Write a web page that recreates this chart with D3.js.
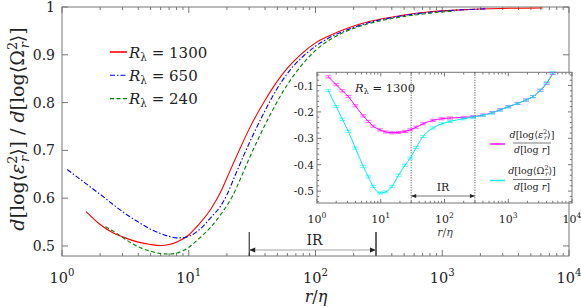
<!DOCTYPE html>
<html>
<head>
<meta charset="utf-8">
<script src="https://cdn.jsdelivr.net/npm/d3@7"></script>
<style>
  body { margin: 0; background: #fff; }
  svg { display: block; }
  text { font-family: "DejaVu Serif", "Liberation Serif", "Times New Roman", serif; }
</style>
</head>
<body>
<svg id="chart" width="581" height="307"></svg>
<script>
// ---- main plot data (r/eta, slope ratio) ----
const r1300 = [1.55, 2, 2.5, 3, 4, 5, 6, 7, 8, 10, 12, 15, 18, 21, 25, 30, 40, 50, 60, 76, 100, 129, 190, 270, 470, 800, 1400, 2900, 6200];
const v1300 = [0.572, 0.545, 0.528, 0.519, 0.508, 0.503, 0.501, 0.503, 0.508, 0.523, 0.545, 0.578, 0.615, 0.655, 0.7, 0.745, 0.805, 0.845, 0.872, 0.9, 0.925, 0.94, 0.958, 0.97, 0.982, 0.99, 0.994, 0.997, 0.998];

const r650 = [1.1, 1.5, 2, 3, 4, 5, 6, 7, 8, 9, 10, 12, 15, 18, 20, 23, 27, 32, 40, 50, 63, 80, 100, 129, 190, 270, 470, 800, 1400, 2200];
const v650 = [0.66, 0.633, 0.608, 0.572, 0.55, 0.535, 0.526, 0.52, 0.517, 0.517, 0.52, 0.533, 0.56, 0.585, 0.607, 0.645, 0.688, 0.731, 0.783, 0.83, 0.868, 0.897, 0.918, 0.936, 0.955, 0.968, 0.981, 0.989, 0.994, 0.996];

const r240 = [2.2, 2.5, 3, 4, 5, 6, 7, 8, 10, 12, 15, 18, 22, 26, 30, 35.5, 45, 56, 71, 87, 112, 141, 190, 270, 470, 800, 1260];
const v240 = [0.54, 0.532, 0.518, 0.498, 0.489, 0.484, 0.483, 0.485, 0.497, 0.515, 0.54, 0.567, 0.603, 0.645, 0.683, 0.725, 0.78, 0.825, 0.865, 0.893, 0.92, 0.937, 0.953, 0.966, 0.979, 0.987, 0.992];

// ---- inset data (R_lambda = 1300) ----
const rIns   = [1.5, 2, 2.5, 3.1, 4, 5.3, 6.4, 7.6, 9.7, 12, 15, 19, 24, 29, 36, 46, 66, 90, 122, 200, 280, 400, 560, 740, 1000, 1400, 1900, 2450, 3200, 4000, 5000];
const epsIns = [-0.067, -0.097, -0.12, -0.142, -0.177, -0.215, -0.236, -0.254, -0.268, -0.276, -0.279, -0.278, -0.274, -0.268, -0.258, -0.245, -0.232, -0.226, -0.223, -0.221, -0.218, -0.212, -0.203, -0.192, -0.18, -0.168, -0.155, -0.142, -0.118, -0.092, -0.054];
const omgIns = [-0.119, -0.18, -0.228, -0.274, -0.337, -0.406, -0.446, -0.482, -0.507, -0.503, -0.482, -0.44, -0.402, -0.375, -0.335, -0.293, -0.261, -0.245, -0.236, -0.226, -0.22, -0.213, -0.204, -0.193, -0.181, -0.168, -0.155, -0.142, -0.118, -0.09, -0.052];
const errIns = [0.004, 0.004, 0.004, 0.004, 0.004, 0.004, 0.004, 0.004, 0.004, 0.004, 0.004, 0.004, 0.004, 0.004, 0.004, 0.004, 0.004, 0.004, 0.004, 0.004, 0.004, 0.004, 0.004, 0.004, 0.004, 0.004, 0.004, 0.004, 0.004, 0.004, 0.004];

// ---- ticks / labels ----
const xDecades = [1, 10, 100, 1000, 10000];
const xDecLabels = ['0', '1', '2', '3', '4'];
const yMain = [0.5, 0.6, 0.7, 0.8, 0.9, 1];
const yMainLabels = ['0.5', '0.6', '0.7', '0.8', '0.9', '1'];
const yIns = [-0.5, -0.4, -0.3, -0.2, -0.1];
const yInsLabels = ['-0.5', '-0.4', '-0.3', '-0.2', '-0.1'];
const irRange = [30, 300];

const series = [
  { r: r1300, v: v1300, label: '1300', color: '#ff0000', dash: null },
  { r: r650,  v: v650,  label: '650',  color: '#0000ff', dash: '5,2,1.5,2' },
  { r: r240,  v: v240,  label: '240',  color: '#008000', dash: '4,2.5' },
];

const svg = d3.select('#chart');
const AX = '#777';

// main axes
const x = d3.scaleLog().domain([1, 1e4]).range([62, 569]);
const y = d3.scaleLinear().domain([0.479, 1]).range([256, 7]);

const xMinor = x.ticks().filter(t => !xDecades.includes(t));

svg.append('defs').append('clipPath').attr('id', 'clipMain')
  .append('rect').attr('x', 62).attr('y', 7).attr('width', 507).attr('height', 249);

function frame(g, xs, ys, major, minorX, yMajor, yMinor, maj, mnr) {
  const [x0, x1] = xs.range(), [y0, y1] = ys.range();
  for (const [yy, s] of [[y0, -1], [y1, 1]]) {
    g.selectAll(null).data(minorX).join('line')
      .attr('x1', d => xs(d)).attr('x2', d => xs(d))
      .attr('y1', yy).attr('y2', yy + s * mnr).attr('stroke', AX);
    g.selectAll(null).data(major).join('line')
      .attr('x1', d => xs(d)).attr('x2', d => xs(d))
      .attr('y1', yy).attr('y2', yy + s * maj).attr('stroke', AX);
  }
  for (const [xx, s] of [[x0, 1], [x1, -1]]) {
    g.selectAll(null).data(yMajor).join('line')
      .attr('y1', d => ys(d)).attr('y2', d => ys(d))
      .attr('x1', xx).attr('x2', xx + s * maj).attr('stroke', AX);
    g.selectAll(null).data(yMinor).join('line')
      .attr('y1', d => ys(d)).attr('y2', d => ys(d))
      .attr('x1', xx).attr('x2', xx + s * mnr).attr('stroke', AX);
  }
  g.append('rect').attr('x', x0).attr('y', y1).attr('width', x1 - x0).attr('height', y0 - y1)
    .attr('fill', 'none').attr('stroke', AX);
}

const mainG = svg.append('g');
frame(mainG, x, y, xDecades, xMinor, yMain, [], 6, 3);

// x tick labels 10^n
function decadeLabels(g, xs, yBase, fs) {
  const t = g.selectAll(null).data(xDecades).join('text')
    .attr('x', d => xs(d)).attr('y', yBase).attr('text-anchor', 'middle')
    .attr('font-size', fs).attr('fill', '#222');
  t.append('tspan').text('10');
  t.append('tspan').attr('font-size', fs * 0.7).attr('dy', -fs * 0.45).text((d, i) => xDecLabels[i]);
}
decadeLabels(mainG, x, 283, 14.5);

mainG.selectAll(null).data(yMain).join('text')
  .attr('x', 55).attr('y', d => y(d) + 5).attr('text-anchor', 'end')
  .attr('font-size', 14).attr('fill', '#222')
  .text((d, i) => yMainLabels[i]);

// x label
const xl = mainG.append('text').attr('x', 316).attr('y', 302).attr('text-anchor', 'middle')
  .attr('font-size', 16).attr('fill', '#222');
xl.append('tspan').attr('font-style', 'italic').text('r');
xl.append('tspan').text('/');
xl.append('tspan').attr('font-style', 'italic').text('η');

// y label
const yl = mainG.append('text').attr('transform', 'translate(24,129) rotate(-90)')
  .attr('text-anchor', 'middle').attr('font-size', 19).attr('fill', '#222');
function logTerm(t, sym, symItalic, fs) {
  t.append('tspan').attr('font-style', 'italic').text('d');
  t.append('tspan').text('[log⟨');
  t.append('tspan').attr('font-style', symItalic ? 'italic' : 'normal').text(sym);
  t.append('tspan').attr('font-size', fs * 0.68).attr('dy', -fs * 0.38).text('2');
  t.append('tspan').attr('font-size', fs * 0.68).attr('font-style', 'italic')
    .attr('dx', -fs * 0.34).attr('dy', fs * 0.62).text('r');
  t.append('tspan').attr('dy', -fs * 0.24).text('⟩]');
}
logTerm(yl, 'ε', true, 19);
yl.append('tspan').text(' / ');
logTerm(yl, 'Ω', false, 19);

// curves
const line = d3.line().x(d => x(d[0])).y(d => y(d[1])).curve(d3.curveMonotoneX);
const curveG = mainG.append('g').attr('clip-path', 'url(#clipMain)');
curveG.selectAll('path').data(series).join('path')
  .attr('d', s => line(d3.zip(s.r, s.v)))
  .attr('fill', 'none').attr('stroke', s => s.color).attr('stroke-width', 1.1)
  .attr('stroke-dasharray', s => s.dash);

// legend
const leg = mainG.selectAll('.leg').data(series).join('g').attr('class', 'leg')
  .attr('transform', (d, i) => `translate(110,${52 + i * 23.3})`);
leg.append('line').attr('x1', 0).attr('x2', 17).attr('stroke', d => d.color)
  .attr('stroke-width', (d, i) => i === 0 ? 1.6 : 1.1).attr('stroke-dasharray', d => d.dash);
const lt = leg.append('text').attr('x', 19).attr('y', 5.5).attr('font-size', 15).attr('fill', '#222');
lt.append('tspan').attr('font-style', 'italic').text('R');
lt.append('tspan').attr('font-size', 10.5).attr('dy', 3).text('λ');
lt.append('tspan').attr('dy', -3).text(d => ' = ' + d.label);

// arrows
function arrow(g, xs, yy, col, head) {
  const a = xs(irRange[0]), b = xs(irRange[1]);
  g.append('line').attr('x1', a).attr('x2', b).attr('y1', yy).attr('y2', yy)
    .attr('stroke', col).attr('stroke-width', 0.9);
  g.append('path').attr('d', `M${a},${yy}l${head},-${head * 0.4}l0,${head * 0.8}Z`).attr('fill', '#222');
  g.append('path').attr('d', `M${b},${yy}l-${head},-${head * 0.4}l0,${head * 0.8}Z`).attr('fill', '#222');
}
mainG.append('line').attr('x1', x(irRange[0])).attr('x2', x(irRange[0]))
  .attr('y1', 232).attr('y2', 256).attr('stroke', '#111').attr('stroke-width', 1);
mainG.append('line').attr('x1', x(irRange[1])).attr('x2', x(irRange[1]))
  .attr('y1', 232).attr('y2', 256).attr('stroke', '#666').attr('stroke-width', 2);
arrow(mainG, x, 250, '#999', 6);
mainG.append('text').attr('x', x(Math.sqrt(irRange[0] * irRange[1])) + 2)
  .attr('y', 245).attr('text-anchor', 'middle').attr('font-size', 14).attr('fill', '#222').text('IR');

// ---- inset ----
const xi = d3.scaleLog().domain([1, 1e4]).range([317, 572]);
const yi = d3.scaleLinear().domain([-0.545, -0.05]).range([203, 72.3]);
const insG = svg.append('g');
insG.append('rect').attr('x', 317).attr('y', 72.3).attr('width', 255).attr('height', 130.7).attr('fill', '#fff');
const yInsMinor = d3.range(-0.54, -0.05, 0.02).map(v => +v.toFixed(2)).filter(v => !yIns.some(t => Math.abs(t - v) < 1e-6));
frame(insG, xi, yi, xDecades, xi.ticks().filter(t => !xDecades.includes(t)), yIns, yInsMinor, 4, 2.2);

decadeLabels(insG, xi, 223, 11);
insG.selectAll(null).data(yIns).join('text')
  .attr('x', 314).attr('y', d => yi(d) + 4).attr('text-anchor', 'end')
  .attr('font-size', 10.5).attr('fill', '#222').text((d, i) => yInsLabels[i]);
const xil = insG.append('text').attr('x', 445).attr('y', 236).attr('text-anchor', 'middle')
  .attr('font-size', 11).attr('fill', '#444');
xil.append('tspan').attr('font-style', 'italic').text('r');
xil.append('tspan').text('/');
xil.append('tspan').attr('font-style', 'italic').text('η');

// IR in inset
for (const v of irRange) {
  insG.append('line').attr('x1', xi(v)).attr('x2', xi(v)).attr('y1', 72.3).attr('y2', 203)
    .attr('stroke', '#333').attr('stroke-width', 0.9).attr('stroke-dasharray', '1,1.5');
}
arrow(insG, xi, 196, '#666', 5);
insG.append('text').attr('x', xi(Math.sqrt(irRange[0] * irRange[1]))).attr('y', 191)
  .attr('text-anchor', 'middle').attr('font-size', 11).attr('fill', '#222').text('IR');

const insSeries = [
  { v: epsIns, color: '#ff00ff', sym: 'ε', it: true, ly: 144 },
  { v: omgIns, color: '#00eeee', sym: 'Ω', it: false, ly: 180.5 },
];
const li = d3.line().x(d => xi(d[0])).y(d => yi(d[1])).curve(d3.curveMonotoneX);
for (const s of insSeries) {
  insG.append('path').attr('d', li(d3.zip(rIns, s.v)))
    .attr('fill', 'none').attr('stroke', s.color).attr('stroke-width', 1);
  const eb = insG.append('g').attr('stroke', s.color).attr('stroke-width', 0.8).attr('opacity', 0.75);
  const pts = d3.zip(rIns, s.v, errIns);
  eb.selectAll(null).data(pts).join('line')
    .attr('x1', d => xi(d[0])).attr('x2', d => xi(d[0]))
    .attr('y1', d => yi(d[1] - d[2])).attr('y2', d => yi(d[1] + d[2]));
  for (const sgn of [-1, 1]) {
    eb.selectAll(null).data(pts).join('line')
      .attr('x1', d => xi(d[0]) - 3).attr('x2', d => xi(d[0]) + 3)
      .attr('y1', d => yi(d[1] + sgn * d[2])).attr('y2', d => yi(d[1] + sgn * d[2]));
  }
  // legend
  insG.append('line').attr('x1', 490).attr('x2', 505).attr('y1', s.ly).attr('y2', s.ly)
    .attr('stroke', s.color).attr('stroke-width', 1.4);
  const num = insG.append('text').attr('x', 532).attr('y', s.ly - 6.5).attr('text-anchor', 'middle')
    .attr('font-size', 9.5).attr('fill', '#222');
  logTerm(num, s.sym, s.it, 9.5);
  insG.append('line').attr('x1', 513).attr('x2', 551).attr('y1', s.ly - 1).attr('y2', s.ly - 1)
    .attr('stroke', '#222').attr('stroke-width', 0.6);
  const den = insG.append('text').attr('x', 532).attr('y', s.ly + 9).attr('text-anchor', 'middle')
    .attr('font-size', 9.5).attr('fill', '#222');
  den.append('tspan').attr('font-style', 'italic').text('d');
  den.append('tspan').text('[log ');
  den.append('tspan').attr('font-style', 'italic').text('r');
  den.append('tspan').text(']');
}

const rl = insG.append('text').attr('x', 355).attr('y', 92).attr('font-size', 11.5).attr('fill', '#222');
rl.append('tspan').attr('font-style', 'italic').text('R');
rl.append('tspan').attr('font-size', 8).attr('dy', 2).text('λ');
rl.append('tspan').attr('dy', -2).text(' = 1300');
</script>
</body>
</html>
